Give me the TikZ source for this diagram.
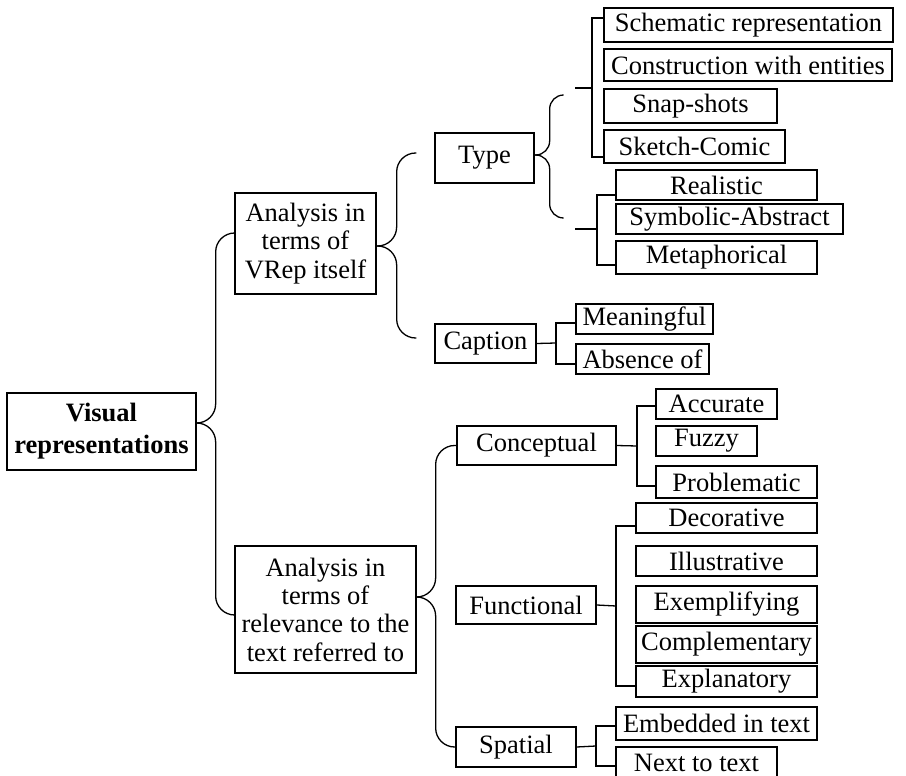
\documentclass[tikz,border=0pt]{standalone}
\usepackage{fontspec}
\setmainfont{Liberation Serif}
\usetikzlibrary{calc}
\tikzset{
  box/.style={draw, line width=1.3pt, inner sep=0pt, align=center,
    font=\fontsize{26.5}{28.3}\selectfont},
  link/.style={line width=1.3pt},
  brace/.style={line width=1.3pt, rounded corners=19pt},
  smallbrace/.style={line width=1.3pt, rounded corners=14pt}
}
\begin{document}
\begin{tikzpicture}[x=1pt,y=-1pt]
\useasboundingbox (0,0) rectangle (906,776);
% main nodes
\node[box, minimum width=189, minimum height=77, font=\bfseries\fontsize{26.5}{32}\selectfont] (vis) at (101.5,431.5) {Visual\\representations};
\node[box, minimum width=141, minimum height=101] (avr) at (305.5,243.5) {Analysis in\\terms of\\VRep itself};
\node[box, minimum width=181, minimum height=127] (arel) at (325.5,609.5) {Analysis in\\terms of\\relevance to the\\text referred to};
\node[box, minimum width=99, minimum height=50] (type) at (484.5,158) {Type};
\node[box, minimum width=101, minimum height=39] (caption) at (485.5,343.5) {Caption};
\node[box, minimum width=159, minimum height=39] (concept) at (536.5,445.5) {Conceptual};
\node[box, minimum width=140, minimum height=38] (funct) at (526,605) {Functional};
\node[box, minimum width=120, minimum height=40] (spatial) at (516,747) {Spatial};
% leaves
\node[box, minimum width=289, minimum height=34] (schem) at (748.5,25) {Schematic representation};
\node[box, minimum width=288, minimum height=32] (constr) at (748,65) {Construction with entities};
\node[box, minimum width=173, minimum height=34] (snap) at (690.5,106) {Snap-shots};
\node[box, minimum width=181, minimum height=33] (sketch) at (694.5,146.5) {Sketch-Comic};
\node[box, minimum width=201, minimum height=30] (real) at (716.5,185) {Realistic};
\node[box, minimum width=227, minimum height=30] (symb) at (729.5,219) {Symbolic-Abstract};
\node[box, minimum width=201, minimum height=33] (meta) at (716.5,257.5) {Metaphorical};
\node[box, minimum width=137, minimum height=30] (mean) at (644.5,319) {Meaningful};
\node[box, minimum width=133, minimum height=30] (absn) at (642.5,359) {Absence of};
\node[box, minimum width=121, minimum height=30] (acc) at (716.5,404) {Accurate};
\node[box, minimum width=101, minimum height=30] (fuzzy) at (706.5,441) {Fuzzy};
\node[box, minimum width=161, minimum height=32] (prob) at (736.5,482) {Problematic};
\node[box, minimum width=181, minimum height=30] (deco) at (726.5,518) {Decorative};
\node[box, minimum width=181, minimum height=30] (illu) at (726.5,561) {Illustrative};
\node[box, minimum width=181, minimum height=37] (exem) at (726.5,604.5) {Exemplifying};
\node[box, minimum width=181, minimum height=37] (compl) at (726.5,644.5) {Complementary};
\node[box, minimum width=181, minimum height=31] (expl) at (726.5,681.5) {Explanatory};
\node[box, minimum width=201, minimum height=33] (emb) at (716.5,723.5) {Embedded in text};
\node[box, minimum width=161, minimum height=38, text depth=7pt] (next) at (696.5,766) {Next to text};
% braces
\coordinate (vtip) at ($(vis.east)+(0,-8.5)$);
\draw[brace] (vtip) -- ++(19,0) |- ($(avr.west)+(0,-10.5)$);
\draw[brace] (vtip) -- ++(19,0) |- ($(arel.west)+(0,5.5)$);
\coordinate (atip) at ($(avr.east)+(0,2.5)$);
\coordinate (typeend) at ($(type.west)+(-18,-5)$);
\coordinate (capend) at ($(caption.west)+(-18,-5.5)$);
\draw[brace] (atip) -- ++(20,0) |- (typeend);
\draw[brace] (atip) -- ++(20,0) |- (capend);
\coordinate (rtip) at ($(arel.east)+(0,-12.5)$);
\draw[brace] (rtip) -- ++(19,0) |- (concept.west);
\draw[brace] (rtip) -- ++(19,0) |- (spatial.west);
\coordinate (ttip) at ($(type.east)+(0,-3)$);
\coordinate (tend1) at (563,95);
\coordinate (tend2) at (563,218);
\draw[smallbrace] (ttip) -- ++(15,0) |- (tend1);
\draw[smallbrace] (ttip) -- ++(15,0) |- (tend2);
% elbow connectors
\coordinate (s1) at (575,88);
\coordinate (j1) at (592,88);
\draw[link] (s1) -- (j1);
\draw[link] ($(schem.west)+(0,-7)$) -| (j1) |- ($(sketch.west)+(0,10.5)$);
\coordinate (s2) at (575,229);
\coordinate (j2) at (597,229);
\draw[link] (s2) -- (j2);
\draw[link] ($(real.west)+(0,10)$) -| (j2) |- ($(meta.west)+(0,7.5)$);
\coordinate (j3) at (556,343);
\draw[link] (caption.east) -- (j3);
\draw[link] ($(mean.west)+(0,4)$) -| (j3) |- ($(absn.west)+(0,5)$);
\coordinate (j4) at (637,446);
\draw[link] (concept.east) -- (j4);
\draw[link] ($(acc.west)+(0,2)$) -| (j4) |- ($(prob.west)+(0,4)$);
\coordinate (j5) at (616,606);
\draw[link] (funct.east) -- (j5);
\draw[link] ($(deco.west)+(0,8)$) -| (j5) |- ($(expl.west)+(0,4.5)$);
\coordinate (j6) at (596,746);
\draw[link] (spatial.east) -- (j6);
\draw[link] ($(emb.west)+(0,2.5)$) -| (j6) |- (next.west);
\end{tikzpicture}
\end{document}
